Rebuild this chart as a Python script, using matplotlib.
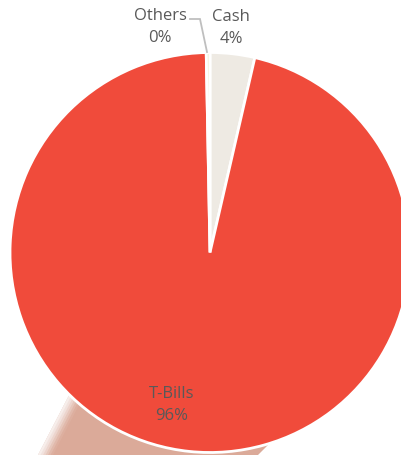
import matplotlib.pyplot as plt
import numpy as np
from matplotlib.patches import Polygon

# Portfolio breakdown (percent)
labels = ["Cash", "T-Bills", "Others"]
shares = [3.6, 96.1, 0.3]
colors = ["#EEEAE3", "#F04B3B", "#F3EED2"]

W, H = 401, 455
fig = plt.figure(figsize=(W / 100, H / 100), dpi=100)
ax = fig.add_axes([0, 0, 1, 1])

cx, cy, R = 210, H - 252.5, 200

# faded backdrop peeking out below the pie (y measured from the bottom)
shade = Polygon([(78, 77), (38, 0), (258, 0), (335, 77)],
                closed=True, facecolor="#DBAA99", edgecolor="none", zorder=0)
ax.add_patch(shade)
for i, a in enumerate(np.linspace(0.9, 0.15, 6)):
    band = Polygon([(78, 77), (38, 0), (38 + 2.5 * (i + 1), 0), (78 + 2.5 * (i + 1), 77)],
                   closed=True, facecolor="white", alpha=a * 0.45, edgecolor="none", zorder=0.5)
    ax.add_patch(band)

wedges, _ = ax.pie(shares, colors=colors, startangle=90, counterclock=False,
                   center=(cx, cy), radius=R,
                   wedgeprops=dict(edgecolor="white", linewidth=2))

txt = dict(color="#595959", fontsize=12, family="Open Sans", ha="center",
           va="center", linespacing=1.5)
ax.text(231, H - 28, "Cash\n%d%%" % round(shares[0]), **txt)
ax.text(172, H - 405, "T-Bills\n%d%%" % round(shares[1]), **txt)
ax.text(160, H - 27, "Others\n%d%%" % round(shares[2]), **txt)

# leader line for the tiny slice
ax.plot([190, 200, 207], [H - 19, H - 19, H - 52], color="#BFBFBF", lw=1.3,
        solid_joinstyle="miter")

ax.set_xlim(0, W)
ax.set_ylim(0, H)
ax.set_aspect("equal")
ax.axis("off")

fig.savefig("out.png", dpi=100)
